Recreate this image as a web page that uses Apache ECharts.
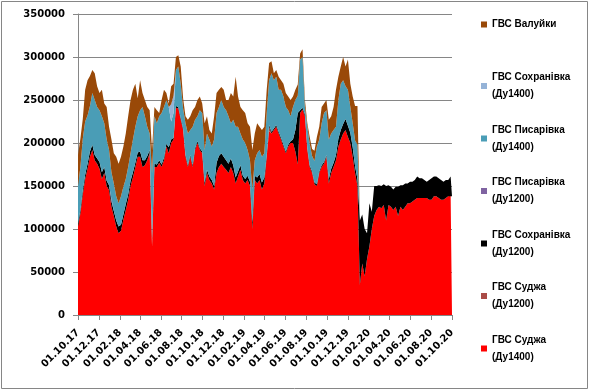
<!DOCTYPE html>
<html>
<head>
<meta charset="utf-8">
<script src="https://cdn.jsdelivr.net/npm/echarts@6/dist/echarts.min.js"></script>
<style>
html,body{margin:0;padding:0;background:#fff;}
#chart{width:592px;height:390px;}
</style>
</head>
<body>
<div id="chart"></div>
<script>
// Sampled weekly from 01.10.2017 (day 0) to 01.10.2020 (day 1096); values in thousands of m3
const START_DATE = Date.UTC(2017, 9, 1);
const TOTAL_DAYS = 1096;
const STEP_DAYS = 7;
const UNIT = 1000;

const xLabels = ['01.10.17','01.12.17','01.02.18','01.04.18','01.06.18','01.08.18','01.10.18',
  '01.12.18','01.02.19','01.04.19','01.06.19','01.08.19','01.10.19','01.12.19','01.02.20',
  '01.04.20','01.06.20','01.08.20','01.10.20'];

const sudzha1400 = [
  103,118,140,158,170,184,192,180,176,170,
  158,165,150,145,126,115,103,95,98,111,
  122,134,150,160,172,184,184,172,174,180,
  188,80,172,172,177,172,180,196,188,200,
  204,241,240,227,215,184,172,184,172,192,
  200,192,188,150,165,157,153,146,165,172,
  176,172,169,165,172,165,153,161,169,157,
  153,157,150,100,157,153,157,146,153,184,
  214,211,215,219,211,204,196,188,196,200,
  200,190,175,235,239,231,192,172,165,152,
  150,165,172,176,184,153,165,172,180,196,
  204,211,215,207,200,184,165,150,35,60,
  45,65,80,100,115,122,126,124,128,110,
  128,126,122,126,115,126,122,126,130,130,
  132,134,136,136,136,136,136,134,134,138,
  138,136,134,134,136,138,140,138];

const sudzha1200 = [
  0,0,0,0,0,0,0,0,0,0,
  0,0,0,0,0,0,0,0,0,0,
  0,0,0,0,0,0,0,0,0,0,
  0,8,0,0,0,0,0,0,0,0,
  0,0,0,0,0,0,0,0,0,0,
  0,0,0,0,0,0,0,0,0,0,
  0,0,0,0,0,0,0,0,0,0,
  0,0,0,0,0,0,0,0,0,0,
  5,0,0,0,0,0,0,0,0,0,
  0,0,0,0,0,0,0,0,0,0,
  0,0,0,0,0,0,0,0,0,0,
  0,0,0,0,0,0,0,0,0,0,
  0,0,0,0,0,0,0,0,0,0,
  0,0,0,0,0,0,0,0,0,0,
  0,0,0,0,0,0,0,0,0,0,
  0,0,0,0,0,0,0,0];

const sokhr1200 = [
  3,4,5,5,6,6,6,6,6,8,
  8,7,6,6,6,6,7,8,7,6,
  7,6,6,6,5,5,6,8,6,5,
  4,2,4,3,3,3,3,3,7,4,
  2,2,2,2,2,2,2,2,2,2,
  2,2,2,4,4,4,4,4,12,13,
  12,12,11,11,10,9,7,6,5,5,
  5,5,5,8,5,7,7,8,7,2,
  2,2,2,2,2,2,2,2,2,2,
  4,25,60,3,2,2,2,2,2,2,
  2,2,2,2,2,5,5,5,6,9,
  11,11,13,13,12,11,8,8,75,57,
  55,30,50,20,35,28,25,26,24,40,
  23,23,24,23,34,25,29,27,23,25,
  23,23,25,23,23,21,19,23,25,23,
  23,23,23,21,21,19,21,22];

const pysar1200 = [
  0,0,0,0,0,0,0,0,0,0,
  0,0,0,0,3,0,0,0,0,0,
  0,0,0,0,0,0,0,0,0,0,
  0,0,0,0,0,0,0,0,0,0,
  0,0,0,0,0,0,0,0,0,0,
  0,0,0,0,0,0,0,0,0,0,
  0,0,0,0,0,0,0,0,0,0,
  0,0,0,0,0,0,0,0,0,0,
  0,0,0,0,0,0,0,0,0,0,
  0,0,0,0,0,0,0,0,0,0,
  0,0,0,0,0,0,0,0,0,0,
  0,0,0,0,0,0,0,0,0,0,
  0,0,0,0,0,0,0,0,0,0,
  0,0,0,0,0,0,0,0,0,0,
  0,0,0,0,0,0,0,0,0,0,
  0,0,0,0,0,0,0,0];

const pysar1400 = [
  44,50,60,62,56,53,60,64,60,60,
  65,51,48,41,31,32,28,27,33,32,
  29,32,32,38,42,42,48,62,51,34,
  19,75,55,48,51,60,59,51,47,21,
  29,42,47,40,23,37,37,29,45,33,
  29,44,45,38,42,43,39,54,58,57,
  62,58,58,55,41,53,59,52,37,42,
  42,30,25,38,18,28,28,30,28,49,
  52,68,56,56,49,56,56,52,40,29,
  38,35,20,59,59,9,25,25,18,25,
  44,37,49,57,52,46,41,38,33,45,
  54,51,38,42,30,28,30,40,0,0,
  0,0,0,0,0,0,0,0,0,0,
  0,0,0,0,0,0,0,0,0,0,
  0,0,0,0,0,0,0,0,0,0,
  0,0,0,0,0,0,0,0];

const sokhr1400 = [
  0,0,0,0,0,0,0,0,0,0,
  0,0,0,0,0,0,0,0,0,0,
  0,0,0,0,0,0,0,0,0,0,
  0,0,0,0,0,0,0,0,0,20,
  20,0,0,0,0,0,0,0,0,0,
  0,0,0,0,0,0,0,0,0,0,
  0,0,0,0,0,0,0,0,0,0,
  0,0,0,0,0,0,0,0,0,0,
  0,0,0,0,0,0,0,0,0,0,
  0,0,0,0,0,0,0,0,0,0,
  0,0,0,0,0,0,0,0,0,0,
  0,0,0,0,0,0,0,0,0,0,
  0,0,0,0,0,0,0,0,0,0,
  0,0,0,0,0,0,0,0,0,0,
  0,0,0,0,0,0,0,0,0,0,
  0,0,0,0,0,0,0,0];

const valuyky = [
  36,33,23,37,41,35,27,31,24,20,
  31,23,38,27,38,35,46,46,46,47,
  53,59,62,58,50,21,35,16,19,23,
  27,27,11,15,4,15,20,8,4,21,
  14,15,13,20,12,8,16,16,19,15,
  19,16,11,31,20,11,15,27,23,20,
  15,20,12,19,35,27,58,35,31,34,
  35,31,39,46,31,35,27,31,31,27,
  20,14,8,8,15,11,15,16,16,19,
  12,12,13,7,9,8,4,8,8,12,
  11,15,19,11,12,23,20,27,43,27,
  20,27,23,35,27,31,40,45,0,0,
  0,0,0,0,0,0,0,0,0,0,
  0,0,0,0,0,0,0,0,0,0,
  0,0,0,0,0,0,0,0,0,0,
  0,0,0,0,0,0,0,0];

// stacking order bottom -> top
const seriesDefs = [
  {name: 'ГВС Суджа (Ду1400)', values: sudzha1400, color: '#FF0000'},
  {name: 'ГВС Суджа (Ду1200)', values: sudzha1200, color: '#AA4B47'},
  {name: 'ГВС Сохранівка (Ду1200)', values: sokhr1200, color: '#000000'},
  {name: 'ГВС Писарівка (Ду1200)', values: pysar1200, color: '#7F63A1'},
  {name: 'ГВС Писарівка (Ду1400)', values: pysar1400, color: '#4A9DB6'},
  {name: 'ГВС Сохранівка (Ду1400)', values: sokhr1400, color: '#95B3D7'},
  {name: 'ГВС Валуйки', values: valuyky, color: '#994908'}
];

// daily date categories dd.mm.yy
function fmtDate(ms) {
  const d = new Date(ms);
  const p = n => (n < 10 ? '0' : '') + n;
  return p(d.getUTCDate()) + '.' + p(d.getUTCMonth() + 1) + '.' + p(d.getUTCFullYear() % 100);
}
const dayCats = [];
for (let k = 0; k <= TOTAL_DAYS; k++) dayCats.push(fmtDate(START_DATE + k * 86400000));
const labelSet = new Set(xLabels);
const showTick = (idx, val) => labelSet.has(val);

function dayIndex(i) { return Math.min(i * STEP_DAYS, TOTAL_DAYS); }

const gray = '#868686';
const axisFont = {fontFamily: 'DejaVu Sans', fontWeight: 'bold', fontSize: 10, color: '#000'};

const series = seriesDefs.map(d => ({
  name: d.name,
  type: 'line',
  stack: 'total',
  symbol: 'none',
  showSymbol: false,
  lineStyle: {width: 0, color: d.color},
  itemStyle: {color: d.color},
  areaStyle: {color: d.color, opacity: 1},
  emphasis: {disabled: true},
  data: d.values.map((v, i) => [dayIndex(i), v * UNIT])
}));

const legendOrder = seriesDefs.slice().reverse().map(d => ({
  name: d.name,
  textStyle: {padding: d.name.indexOf('(') < 0 ? [26, 0, 26, 0] : [17, 0, 0, 0]}
}));

const chart = echarts.init(document.getElementById('chart'), null, {renderer: 'canvas'});
chart.setOption({
  animation: false,
  backgroundColor: '#fff',
  graphic: [{
    type: 'rect', silent: true,
    shape: {x: 1.5, y: 1.5, width: 586, height: 387},
    style: {fill: 'none', stroke: gray, lineWidth: 1}
  }],
  grid: {left: 78, right: 140, top: 14, bottom: 75},
  legend: {
    orient: 'vertical',
    left: 481, top: -10,
    padding: 0,
    itemGap: 1.5,
    itemWidth: 6, itemHeight: 6,
    icon: 'rect',
    itemStyle: {borderWidth: 0},
    selectedMode: false,
    data: legendOrder,
    formatter: n => n.replace(' (', '\n('),
    textStyle: {fontFamily: 'Liberation Sans', fontWeight: 'bold', fontSize: 10, color: '#000', lineHeight: 17}
  },
  xAxis: {
    type: 'category', data: dayCats, boundaryGap: false,
    axisLine: {show: true, lineStyle: {color: gray}},
    axisTick: {show: true, length: 5, interval: showTick, lineStyle: {color: gray}},
    splitLine: {show: false},
    axisLabel: Object.assign({rotate: 45, margin: 16, interval: showTick}, axisFont)
  },
  yAxis: {
    type: 'value', min: 0, max: 350000, interval: 50000,
    axisLine: {show: true, lineStyle: {color: gray}},
    axisTick: {show: true, length: 5, lineStyle: {color: gray}},
    splitLine: {show: true, lineStyle: {color: gray, width: 1}},
    axisLabel: Object.assign({margin: 13, formatter: v => String(v)}, axisFont)
  },
  series: series
});
</script>
</body>
</html>
